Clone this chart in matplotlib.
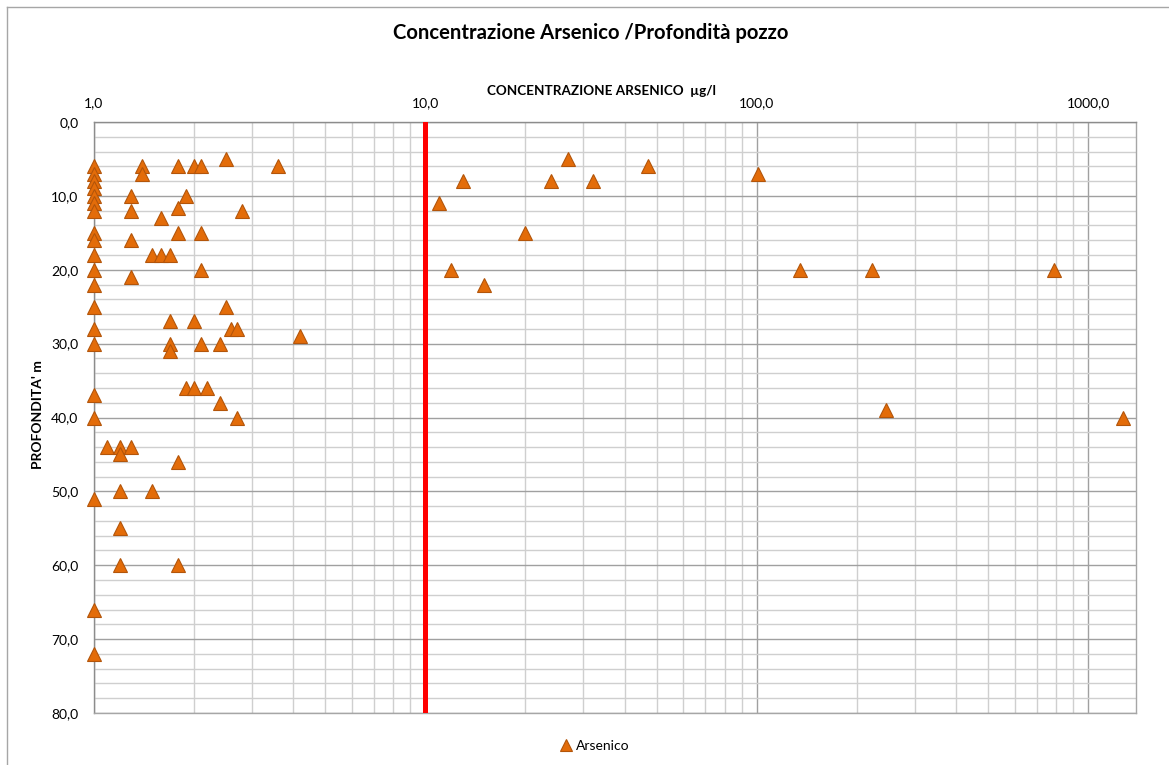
import matplotlib
matplotlib.use("Agg")
import matplotlib.pyplot as plt
from matplotlib.ticker import FixedLocator, FuncFormatter, NullFormatter
from matplotlib.lines import Line2D
import numpy as np

plt.rcParams['font.family'] = ['Lato', 'DejaVu Sans']

# ---- data (concentration µg/l, depth m) ----
conc_low = [1.0, 1.0, 1.0, 1.0, 1.0, 1.0, 1.0, 1.0, 1.0, 1.0,
            1.0, 1.0, 1.0, 1.0, 1.0, 1.0, 1.0, 1.0, 1.0, 1.0]
depth_low = [6, 7, 8, 9, 10, 11, 12, 15, 16, 18,
             20, 22, 25, 28, 30, 37, 40, 51, 66, 72]

conc_mid = [1.4, 1.4, 1.8, 2.0, 2.1, 2.5, 3.6,
            1.3, 1.9, 1.3, 1.8, 1.6, 2.8,
            1.8, 2.1, 1.3, 1.5, 1.6, 1.7, 2.1, 1.3,
            2.5, 1.7, 2.0, 2.6, 2.7, 4.2, 1.7, 1.7, 2.1, 2.4,
            1.9, 2.0, 2.2, 2.4, 2.7,
            1.1, 1.2, 1.3, 1.2, 1.8, 1.2, 1.5, 1.2, 1.2, 1.8]
depth_mid = [6, 7, 6, 6, 6, 5, 6,
             10, 10, 12, 11.6, 13, 12,
             15, 15, 16, 18, 18, 18, 20, 21,
             25, 27, 27, 28, 28, 29, 30, 31, 30, 30,
             36, 36, 36, 38, 40,
             44, 44, 44, 45, 46, 50, 50, 55, 60, 60]

conc_high = [11, 13, 24, 27, 32, 47, 101, 20, 12, 15,
             135, 222, 790, 246, 1270]
depth_high = [11, 8, 8, 5, 8, 6, 7, 15, 20, 22,
              20, 20, 20, 39, 40]

limit_value = 10.0          # legal limit line (µg/l)
x_major = [1, 10, 100, 1000]
y_major = [0, 10, 20, 30, 40, 50, 60, 70, 80]

conc = conc_low + conc_mid + conc_high
depth = depth_low + depth_mid + depth_high

# ---- figure ----
fig = plt.figure(figsize=(11.69, 7.65), dpi=100)
W, H = 1169, 765
ax = fig.add_axes([93.7 / W, 1 - 713 / H, (1135.7 - 93.7) / W, (713 - 122) / H])

ax.set_xscale('log')
ax.set_xlim(1, 1390)
ax.set_ylim(80, 0)

minor_x = [m * 10 ** e for e in range(0, 4) for m in range(2, 10) if m * 10 ** e < 1390]
ax.xaxis.set_major_locator(FixedLocator(x_major))
ax.xaxis.set_minor_locator(FixedLocator(minor_x))
ax.xaxis.set_major_formatter(FuncFormatter(lambda v, p: f"{v:.1f}".replace('.', ',')))
ax.xaxis.set_minor_formatter(NullFormatter())
ax.yaxis.set_major_locator(FixedLocator(y_major))
ax.yaxis.set_minor_locator(FixedLocator(np.arange(0, 81, 2)))
ax.yaxis.set_major_formatter(FuncFormatter(lambda v, p: f"{v:.1f}".replace('.', ',')))

ax.xaxis.tick_top()
ax.xaxis.set_label_position('top')
ax.tick_params(axis='both', which='both', length=0, labelsize=10, colors='#000000')
ax.tick_params(axis='x', pad=9)
ax.tick_params(axis='y', pad=11)

ax.grid(which='minor', color='#cfcfcf', linewidth=1.0)
ax.grid(which='major', color='#a0a0a0', linewidth=1.0)
ax.set_axisbelow(True)
for s in ax.spines.values():
    s.set_color('#a6a6a6')
    s.set_linewidth(1.0)
ax.spines['left'].set_color('#8c8c8c')
ax.spines['top'].set_color('#8c8c8c')

ax.axvline(limit_value, color='#ff0000', linewidth=3.6, zorder=3)

ax.plot(conc, depth, linestyle='none', marker='^', markersize=10,
        markerfacecolor='#E36C09', markeredgecolor='#B3550A', markeredgewidth=0.8,
        zorder=4, clip_on=False, label='Arsenico')

ax.set_xlabel('CONCENTRAZIONE ARSENICO  µg/l', fontsize=9.7, fontweight='bold')
ax.xaxis.set_label_coords((601 - 93.7) / (1135.7 - 93.7), 1 + (122 - 95) / 591)
ax.set_ylabel("PROFONDITA' m", fontsize=10, fontweight='bold')
ax.yaxis.set_label_coords((44 - 93.7) / (1135.7 - 93.7), 0.505)

fig.text(591 / W, 1 - 33 / H, 'Concentrazione Arsenico /Profondità pozzo',
         ha='center', va='center', fontsize=14.6, fontweight='bold')

leg = fig.legend(loc='center', bbox_to_anchor=(594 / W, 1 - 746 / H), frameon=False,
                 fontsize=10, handletextpad=0.2, handlelength=1.0, markerscale=0.8)

# chart outer border (top and left edges visible in reference)
fig.add_artist(Line2D([7 / W, 1.0], [1 - 7 / H, 1 - 7 / H], color='#a6a6a6', linewidth=1.0))
fig.add_artist(Line2D([7 / W, 7 / W], [0, 1 - 7 / H], color='#a6a6a6', linewidth=1.0))

fig.savefig('out.png', dpi=100)
